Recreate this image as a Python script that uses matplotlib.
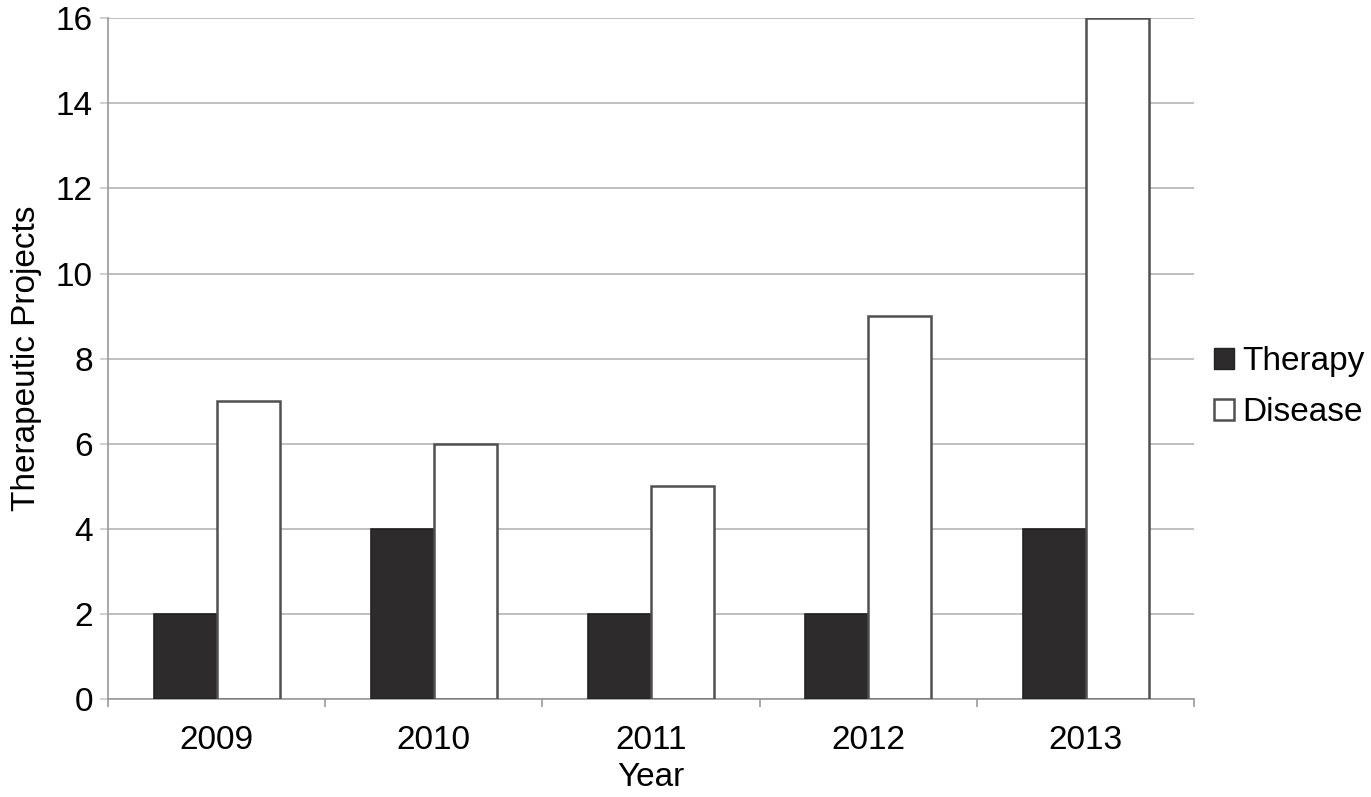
import numpy as np
import matplotlib.pyplot as plt
from matplotlib.patches import Patch

plt.rcParams['font.family'] = ['Liberation Sans', 'DejaVu Sans']

years = ["2009", "2010", "2011", "2012", "2013"]
therapy = [2, 4, 2, 2, 4]
disease = [7, 6, 5, 9, 16]

fig = plt.figure(figsize=(13.71, 7.97), dpi=100)
ax = fig.add_axes([0.0788, 0.123, 0.7922, 0.854])

x = np.arange(len(years))
w = 0.29
ax.bar(x - w / 2, therapy, w, color="#2d2b2c", edgecolor="#222222", linewidth=1.2, zorder=3)
ax.bar(x + w / 2, disease, w, color="white", edgecolor="#505050", linewidth=1.8, zorder=3)

ax.set_xlim(-0.5, len(years) - 0.5)
ax.set_ylim(0, 16)
ax.set_yticks(range(0, 17, 2))
ax.yaxis.grid(True, color="#b4b4b4", linewidth=1.2, zorder=0)

ax.set_xticks(x)
ax.set_xticklabels(years)
ax.set_xticks(np.arange(-0.5, len(years)), minor=True)
ax.tick_params(axis="x", which="major", length=0, pad=19, labelsize=24)
ax.tick_params(axis="x", which="minor", length=6, color="#999999", width=1.2)
ax.tick_params(axis="y", length=6, color="#c8c8c8", width=1.2, labelsize=24, pad=5)

for side in ["top", "right"]:
    ax.spines[side].set_visible(False)
for side in ["left", "bottom"]:
    ax.spines[side].set_color("#999999")
    ax.spines[side].set_linewidth(1.2)

ax.set_xlabel("Year", fontsize=24, labelpad=4)
ax.set_ylabel("Therapeutic Projects", fontsize=24, labelpad=10)

handles = [Patch(facecolor="#2d2b2c", edgecolor="#222222", label="Therapy"),
           Patch(facecolor="white", edgecolor="#505050", linewidth=1.8, label="Disease")]
ax.legend(handles=handles, loc="center left", bbox_to_anchor=(1.0, 0.458), frameon=False,
          fontsize=24, handlelength=0.6, handleheight=0.6, handletextpad=0.25, labelspacing=0.6,
          borderaxespad=0.2)

fig.savefig("out.png", dpi=100)
